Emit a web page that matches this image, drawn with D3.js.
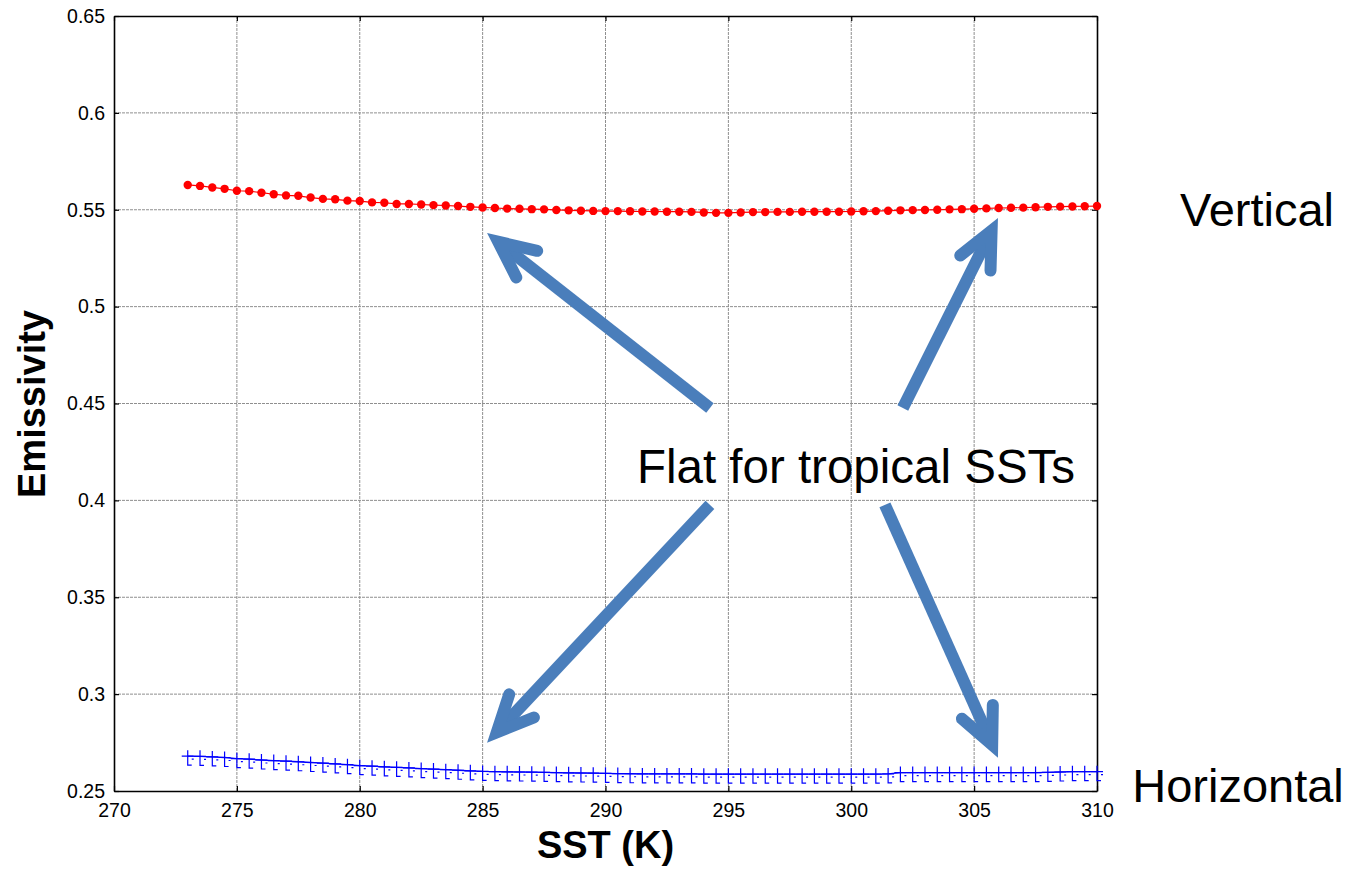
<!DOCTYPE html>
<html>
<head>
<meta charset="utf-8">
<script src="https://cdn.jsdelivr.net/npm/d3@7"></script>
<style>
  html, body { margin: 0; padding: 0; background: #fff; }
  svg { display: block; font-family: "Liberation Sans", Arial, Helvetica, sans-serif; }
</style>
</head>
<body>
<svg id="chart" width="1357" height="869"></svg>
<script>
// ---------------- data ----------------
const sst = [
  273.0, 273.5, 274.0, 274.5, 275.0, 275.5, 276.0, 276.5, 277.0, 277.5,
  278.0, 278.5, 279.0, 279.5, 280.0, 280.5, 281.0, 281.5, 282.0, 282.5,
  283.0, 283.5, 284.0, 284.5, 285.0, 285.5, 286.0, 286.5, 287.0, 287.5,
  288.0, 288.5, 289.0, 289.5, 290.0, 290.5, 291.0, 291.5, 292.0, 292.5,
  293.0, 293.5, 294.0, 294.5, 295.0, 295.5, 296.0, 296.5, 297.0, 297.5,
  298.0, 298.5, 299.0, 299.5, 300.0, 300.5, 301.0, 301.5, 302.0, 302.5,
  303.0, 303.5, 304.0, 304.5, 305.0, 305.5, 306.0, 306.5, 307.0, 307.5,
  308.0, 308.5, 309.0, 309.5, 310.0
];
const verticalEmis = [
  0.5628, 0.5623, 0.5615, 0.5608, 0.5598, 0.5596, 0.5588, 0.5580, 0.5574, 0.5572,
  0.5563, 0.5556, 0.5554, 0.5547, 0.5545, 0.5538, 0.5536, 0.5530, 0.5530, 0.5527,
  0.5524, 0.5522, 0.5519, 0.5515, 0.5512, 0.5509, 0.5506, 0.5505, 0.5503, 0.5502,
  0.5499, 0.5497, 0.5495, 0.5494, 0.5493, 0.5493, 0.5492, 0.5491, 0.5491, 0.5490,
  0.5490, 0.5489, 0.5486, 0.5484, 0.5484, 0.5486, 0.5488, 0.5488, 0.5489, 0.5489,
  0.5490, 0.5490, 0.5490, 0.5490, 0.5491, 0.5492, 0.5493, 0.5495, 0.5497, 0.5498,
  0.5499, 0.5500, 0.5502, 0.5503, 0.5505, 0.5507, 0.5509, 0.5510, 0.5511, 0.5513,
  0.5515, 0.5516, 0.5517, 0.5518, 0.5519
];
const horizontalEmis = [
  0.2680, 0.2679, 0.2676, 0.2673, 0.2667, 0.2664, 0.2660, 0.2657, 0.2654, 0.2651,
  0.2647, 0.2644, 0.2640, 0.2636, 0.2631, 0.2628, 0.2625, 0.2622, 0.2619, 0.2616,
  0.2613, 0.2610, 0.2607, 0.2604, 0.2601, 0.2600, 0.2599, 0.2598, 0.2597, 0.2596,
  0.2595, 0.2594, 0.2593, 0.2592, 0.2591, 0.2590, 0.2589, 0.2588, 0.2588, 0.2588,
  0.2588, 0.2588, 0.2587, 0.2587, 0.2587, 0.2587, 0.2587, 0.2587, 0.2587, 0.2587,
  0.2587, 0.2587, 0.2587, 0.2587, 0.2587, 0.2587, 0.2587, 0.2588, 0.2595, 0.2595,
  0.2595, 0.2595, 0.2595, 0.2595, 0.2595, 0.2595, 0.2595, 0.2595, 0.2595, 0.2595,
  0.2596, 0.2598, 0.2600, 0.2600, 0.2600
];
const xTicks = [270, 275, 280, 285, 290, 295, 300, 305, 310];
const yTicks = [0.25, 0.3, 0.35, 0.4, 0.45, 0.5, 0.55, 0.6, 0.65];
const xTitle = "SST (K)";
const yTitle = "Emissivity";
const seriesLabels = ["Vertical", "Horizontal"];
const annotationText = "Flat for tropical SSTs";
// arrows in data units: [fromSST, fromEmis, toSST (visible tip), toEmis (visible tip)]
const arrows = [
  [294.25, 0.4477, 285.18, 0.5380],
  [302.10, 0.4477, 305.97, 0.5458],
  [294.25, 0.3977, 285.18, 0.2749],
  [301.37, 0.3977, 305.97, 0.2671]
];

// ---------------- layout ----------------
const svg = d3.select("#chart");
const L = 114, R = 1097, T = 16, B = 791;
const x = d3.scaleLinear().domain([270, 310]).range([L, R]);
const y = d3.scaleLinear().domain([0.25, 0.65]).range([B, T]);

// grid
const grid = svg.append("g");
grid.selectAll("line.gx").data(xTicks.slice(1, -1)).join("line")
  .attr("x1", d => x(d)).attr("x2", d => x(d)).attr("y1", T).attr("y2", B)
  .attr("stroke", "#8f8f8f").attr("stroke-width", 1).attr("stroke-dasharray", "3,1");
grid.selectAll("line.gy").data(yTicks.slice(1, -1)).join("line")
  .attr("y1", d => y(d)).attr("y2", d => y(d)).attr("x1", L).attr("x2", R)
  .attr("stroke", "#8f8f8f").attr("stroke-width", 1).attr("stroke-dasharray", "3,1");

// axes (ticks inside, box on)
const tickFont = "19.5px";
const axB = svg.append("g").attr("transform", `translate(0,${B})`)
  .call(d3.axisBottom(x).tickValues(xTicks).tickSizeInner(-5).tickSizeOuter(0).tickPadding(10).tickFormat(d3.format("d")));
const axT = svg.append("g").attr("transform", `translate(0,${T})`)
  .call(d3.axisTop(x).tickValues(xTicks).tickSizeInner(-5).tickSizeOuter(0).tickFormat(""));
const axL = svg.append("g").attr("transform", `translate(${L},0)`)
  .call(d3.axisLeft(y).tickValues(yTicks).tickSizeInner(-5).tickSizeOuter(0).tickPadding(10).tickFormat(d => String(+d.toFixed(2))));
const axRt = svg.append("g").attr("transform", `translate(${R},0)`)
  .call(d3.axisRight(y).tickValues(yTicks).tickSizeInner(-5).tickSizeOuter(0).tickFormat(""));
[axB, axT, axL, axRt].forEach(a => {
  a.select(".domain").attr("stroke", "#000").attr("stroke-width", 1.6);
  a.selectAll(".tick line").attr("stroke", "#000").attr("stroke-width", 1.2);
  a.selectAll("text").attr("font-size", tickFont).attr("fill", "#000")
    .attr("font-family", "'Liberation Sans', Arial, sans-serif");
});
axB.selectAll("text").attr("dy", "0.71em").attr("y", 12);
axL.selectAll("text").attr("x", -9);

// vertical series (red dots)
const pts = sst.map((s, i) => ({ s, v: verticalEmis[i], h: horizontalEmis[i] }));
const lineV = d3.line().x(d => x(d.s)).y(d => y(d.v));
svg.append("path").datum(pts).attr("d", lineV)
  .attr("fill", "none").attr("stroke", "#ff0000").attr("stroke-width", 1.2);
svg.append("g").selectAll("circle").data(pts).join("circle")
  .attr("cx", d => x(d.s)).attr("cy", d => y(d.v)).attr("r", 4.2)
  .attr("fill", "#ff0000");

// horizontal series (blue +)
const lineH = d3.line().x(d => x(d.s)).y(d => y(d.h));
svg.append("path").datum(pts).attr("d", lineH)
  .attr("fill", "none").attr("stroke", "#0000ff").attr("stroke-width", 1.3);
svg.append("g").selectAll("path").data(pts).join("path")
  .attr("transform", d => `translate(${x(d.s)},${y(d.h)})`)
  .attr("d", "M-6,0H6M0,-6V9H4M4,3H6")
  .attr("fill", "none").attr("stroke", "#0000ff").attr("stroke-width", 1.2);

// axis titles
svg.append("text").attr("x", (L + R) / 2).attr("y", 858)
  .attr("text-anchor", "middle").attr("font-size", "38px").attr("font-weight", "bold")
  .text(xTitle);
svg.append("text").attr("transform", `translate(45,404) rotate(-90)`)
  .attr("text-anchor", "middle").attr("font-size", "38px").attr("font-weight", "bold")
  .text(yTitle);

// series labels
svg.append("text").attr("x", 1257).attr("y", 226).attr("text-anchor", "middle")
  .attr("font-size", "47px").text(seriesLabels[0]);
svg.append("text").attr("x", 1238).attr("y", 802).attr("text-anchor", "middle")
  .attr("font-size", "47px").text(seriesLabels[1]);

// annotation text
svg.append("text").attr("x", 856).attr("y", 483).attr("text-anchor", "middle")
  .attr("font-size", "47.5px").text(annotationText);

// arrows
const arrowColor = "#4a7ebb";
const ag = svg.append("g");
const sw = 12, spread = 25 * Math.PI / 180, armLen = 40;
arrows.forEach(a => {
  const x0 = x(a[0]), y0 = y(a[1]), tx = x(a[2]), ty = y(a[3]);
  const ang = Math.atan2(y0 - ty, x0 - tx);
  // move vertex back so the miter's outer point lands on the visible tip
  const back = (sw / 2) / Math.sin(spread);
  const x1 = tx + back * Math.cos(ang), y1 = ty + back * Math.sin(ang);
  const ax1 = x1 + armLen * Math.cos(ang + spread), ay1 = y1 + armLen * Math.sin(ang + spread);
  const ax2 = x1 + armLen * Math.cos(ang - spread), ay2 = y1 + armLen * Math.sin(ang - spread);
  ag.append("line").attr("x1", x0).attr("y1", y0).attr("x2", x1).attr("y2", y1)
    .attr("stroke", arrowColor).attr("stroke-width", sw).attr("stroke-linecap", "butt");
  ag.append("path").attr("d", `M${ax1},${ay1}L${x1},${y1}L${ax2},${ay2}`)
    .attr("fill", "none").attr("stroke", arrowColor).attr("stroke-width", sw)
    .attr("stroke-linecap", "round").attr("stroke-linejoin", "miter").attr("stroke-miterlimit", 10);
});
</script>
</body>
</html>
